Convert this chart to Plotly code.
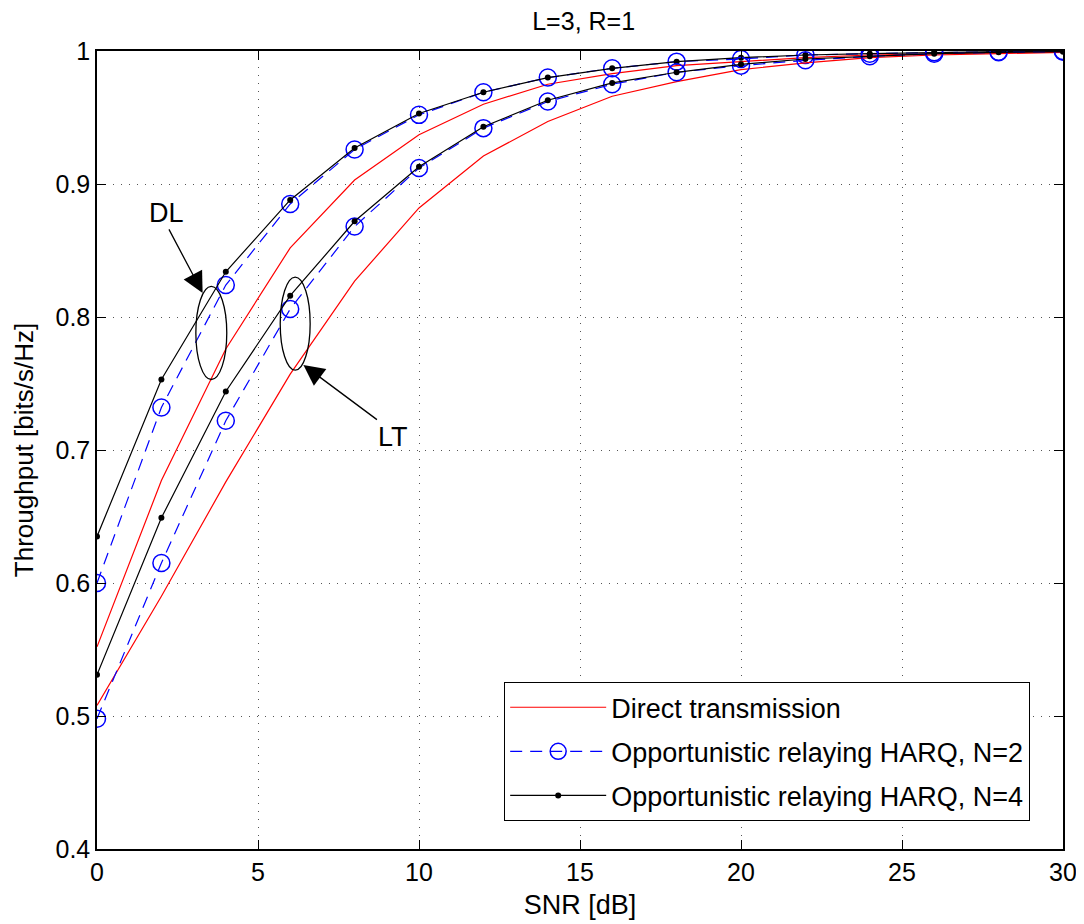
import plotly.graph_objects as go

snr = [0, 2, 4, 6, 8, 10, 12, 14, 16, 18, 20, 22, 24, 26, 28, 30]

dl_direct = [0.552, 0.677, 0.776, 0.852, 0.903, 0.937, 0.960, 0.975, 0.983, 0.989, 0.992, 0.995, 0.997, 0.998, 0.999, 0.9995]
dl_n2 = [0.600, 0.732, 0.824, 0.885, 0.926, 0.952, 0.969, 0.980, 0.987, 0.992, 0.994, 0.997, 0.998, 0.999, 0.9995, 1.0]
dl_n4 = [0.635, 0.753, 0.834, 0.888, 0.927, 0.953, 0.969, 0.980, 0.987, 0.992, 0.995, 0.997, 0.998, 0.999, 0.9995, 1.0]

lt_direct = [0.508, 0.590, 0.676, 0.757, 0.827, 0.882, 0.921, 0.947, 0.966, 0.977, 0.986, 0.991, 0.995, 0.997, 0.998, 0.999]
lt_n2 = [0.498, 0.615, 0.722, 0.806, 0.868, 0.912, 0.942, 0.962, 0.975, 0.984, 0.989, 0.993, 0.996, 0.998, 0.999, 0.9995]
lt_n4 = [0.531, 0.649, 0.744, 0.816, 0.872, 0.913, 0.943, 0.963, 0.976, 0.984, 0.990, 0.994, 0.996, 0.998, 0.999, 0.9995]

names = ["Direct transmission", "Opportunistic relaying HARQ, N=2", "Opportunistic relaying HARQ, N=4"]
x_ticks = [0, 5, 10, 15, 20, 25, 30]
y_ticks = [0.4, 0.5, 0.6, 0.7, 0.8, 0.9, 1.0]
y_tick_text = ["0.4", "0.5", "0.6", "0.7", "0.8", "0.9", "1"]

FONT = "Liberation Sans, Arial, sans-serif"
FS = 25

fig = go.Figure()

groups = [(dl_direct, dl_n2, dl_n4, True), (lt_direct, lt_n2, lt_n4, False)]
for d, n2, n4, show in groups:
    fig.add_trace(go.Scatter(x=snr, y=d, mode="lines", name=names[0], legendgroup="d",
                             showlegend=show, line=dict(color="#ff0000", width=1.2)))
    fig.add_trace(go.Scatter(x=snr, y=n2, mode="lines+markers", name=names[1], legendgroup="n2",
                             showlegend=show, line=dict(color="#0000ff", width=1.2, dash="12px,8px"),
                             marker=dict(symbol="circle-open", size=17, color="#0000ff",
                                         line=dict(width=1.5, color="#0000ff"))))
    fig.add_trace(go.Scatter(x=snr, y=n4, mode="lines+markers", name=names[2], legendgroup="n4",
                             showlegend=show, line=dict(color="#000000", width=1.2),
                             marker=dict(symbol="circle", size=6, color="#000000")))

# ellipses
fig.add_shape(type="circle", xref="x", yref="y", x0=3.07, x1=4.03, y0=0.753, y1=0.823,
              line=dict(color="black", width=1.3))
fig.add_shape(type="circle", xref="x", yref="y", x0=5.69, x1=6.62, y0=0.760, y1=0.830,
              line=dict(color="black", width=1.3))

# arrows
fig.add_annotation(x=3.28, y=0.818, ax=2.21, ay=0.867, xref="x", yref="y", axref="x", ayref="y",
                   text="", showarrow=True, arrowhead=2, arrowsize=3.2, arrowwidth=1.3, arrowcolor="black")
fig.add_annotation(x=6.41, y=0.764, ax=8.74, ay=0.722, xref="x", yref="y", axref="x", ayref="y",
                   text="", showarrow=True, arrowhead=2, arrowsize=3.2, arrowwidth=1.3, arrowcolor="black")
fig.add_annotation(x=2.17, y=0.878, xref="x", yref="y", text="DL", showarrow=False,
                   font=dict(family=FONT, size=27, color="black"))
fig.add_annotation(x=9.19, y=0.710, xref="x", yref="y", text="LT", showarrow=False,
                   font=dict(family=FONT, size=27, color="black"))

axis_common = dict(showline=True, linecolor="black", linewidth=1.5, mirror="ticks",
                   ticks="inside", ticklen=9, tickwidth=1, tickcolor="black",
                   showgrid=True, gridcolor="#555555", gridwidth=1, griddash="1px,7px",
                   zeroline=False, tickfont=dict(family=FONT, size=FS, color="black"))

fig.update_xaxes(range=[0, 30], tickvals=x_ticks, ticktext=[str(v) for v in x_ticks],
                 title=dict(text="SNR [dB]", font=dict(family=FONT, size=27, color="black"), standoff=10),
                 **axis_common)
fig.update_yaxes(range=[0.4, 1.0], tickvals=y_ticks, ticktext=y_tick_text,
                 title=dict(text="Throughput [bits/s/Hz]", font=dict(family=FONT, size=26, color="black"), standoff=14),
                 **axis_common)

# page body has an 8px margin; compensate so the plot area matches the reference
fig.update_layout(
    width=1076, height=916,
    margin=dict(l=89, r=21, t=43, b=75, autoexpand=False),
    paper_bgcolor="white", plot_bgcolor="white",
    font=dict(family=FONT, size=FS, color="black"),
    title=dict(text="L=3, R=1", x=0.535, xanchor="center", y=1 - 13 / 916, yanchor="middle",
               font=dict(family=FONT, size=FS, color="black")),
    legend=dict(x=0.4213, y=0.2093, xanchor="left", yanchor="top", bgcolor="white",
                bordercolor="black", borderwidth=1.2, itemwidth=96, tracegroupgap=6,
                font=dict(family=FONT, size=27, color="black")),
)

fig.write_html("out.html")
